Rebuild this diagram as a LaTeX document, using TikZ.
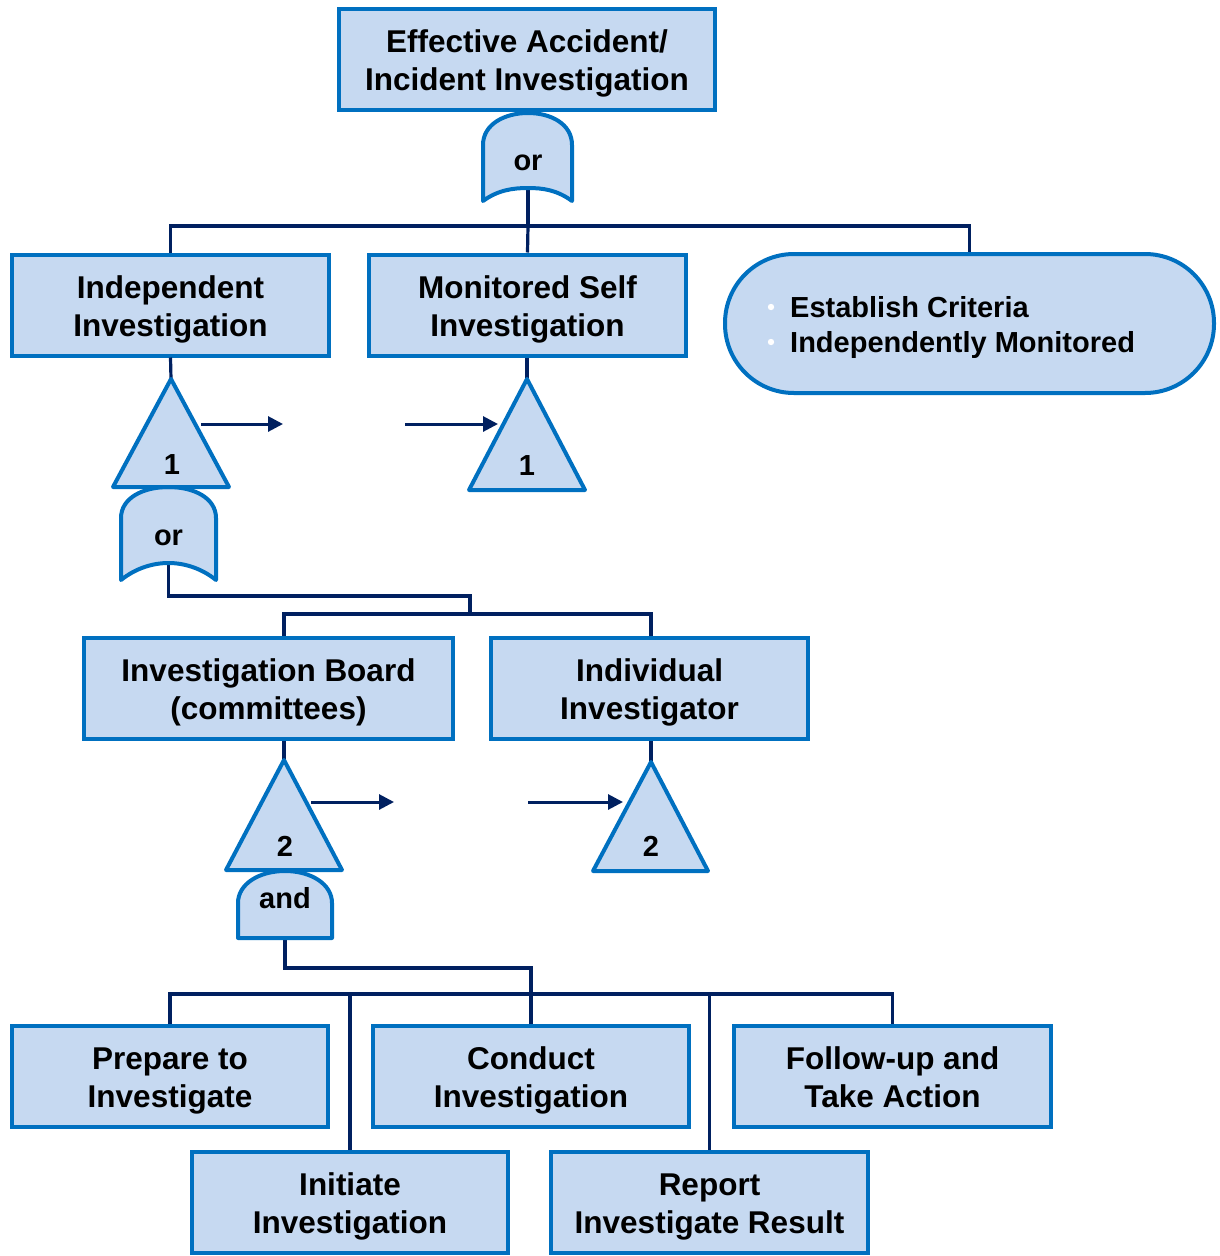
\documentclass[tikz,border=0pt]{standalone}
\usepackage{fontspec}
\setmainfont{Liberation Sans}
\usetikzlibrary{arrows.meta}
\definecolor{boxfill}{RGB}{198,217,241}
\definecolor{boxline}{RGB}{0,112,192}
\definecolor{wire}{RGB}{0,32,96}
% fixed line heights so every two-line label sits at the same place
\newcommand\firstline[1]{\rule{0pt}{31pt}#1}
\newcommand\lastline[1]{#1\rule[-7pt]{0pt}{7pt}}
\newcommand\twolines[2]{\firstline{#1}\\\lastline{#2}}

\begin{document}
\begin{tikzpicture}[x=1pt,y=-1pt,
  box/.style={draw=boxline, fill=boxfill, line width=4pt, minimum width=317pt,
    minimum height=101pt, inner sep=0pt, align=center,
    font=\fontsize{31.5}{38}\selectfont\bfseries},
  gateshape/.style={draw=boxline, fill=boxfill, line width=4pt, line join=round},
  gatetext/.style={inner sep=0pt, font=\fontsize{29}{34}\selectfont\bfseries},
  conn/.style={draw=wire, line width=3.2pt},
  transfer/.style={draw=wire, line width=3pt, -{Triangle[length=15pt,width=15pt]}}]
\useasboundingbox (0,0) rectangle (1220,1256);

% ---- boxes ----
\node[box, minimum width=376pt] (top) at (527,59.5) {\twolines{Effective Accident/}{Incident Investigation}};
\node[box] (indep) at (170.5,305) {\twolines{Independent}{Investigation}};
\node[box] (mon) at (527.5,305) {\twolines{Monitored Self}{Investigation}};
\node[draw=boxline, fill=boxfill, line width=4pt, rounded corners=69pt,
  minimum width=489pt, minimum height=139pt] (crit) at (969.5,323.5) {};
\node[anchor=west, align=left, inner sep=0pt,
  font=\fontsize{29}{35}\selectfont\bfseries] (crittext) at (790,327.5)
  {Establish Criteria\\Independently Monitored};
\fill[white] (771,307) circle (3.2pt) (771,342) circle (3.2pt);

\node[box, minimum width=369pt] (board) at (268.5,688.5) {\twolines{Investigation Board}{(committees)}};
\node[box] (indiv) at (649.5,688.5) {\twolines{Individual}{Investigator}};

\node[box, minimum width=316pt] (prep) at (170,1076.5) {\twolines{Prepare to}{Investigate}};
\node[box, minimum width=316pt] (cond) at (531,1076.5) {\twolines{Conduct}{Investigation}};
\node[box] (foll) at (892.5,1076.5) {\twolines{Follow-up and}{Take Action}};
\node[box, minimum width=316pt] (init) at (350,1202.5) {\twolines{Initiate}{Investigation}};
\node[box] (rep) at (709.5,1202.5) {\twolines{Report}{Investigate Result}};

% ---- junction points ----
\coordinate (gA) at (528,188);
\coordinate (busA) at (528,226);
\coordinate (t1a) at (171,379);
\coordinate (t1b) at (527,379);
\coordinate (gB) at (168.5,563);
\coordinate (jB) at (470,596);
\coordinate (busB) at (470,614);
\coordinate (t2a) at (284,760);
\coordinate (t2b) at (651,762);
\coordinate (gC) at (285,938);
\coordinate (jC) at (531,968);
\coordinate (busC) at (531,994);

% ---- connectors ----
\draw[conn] (gA) -- (busA);
\draw[conn] (indep.north) |- (busA) -| (crit.north);
\draw[conn] (busA) -- (mon.north);
\draw[conn] (indep.south) -- (t1a);
\draw[conn] (mon.south -| t1b) -- (t1b);
\draw[conn] (gB) |- (jB) -- (busB);
\draw[conn] (t2a |- board.north) |- (busB) -| (t2b |- indiv.north);
\draw[conn] (t2a |- board.south) -- (t2a);
\draw[conn] (t2b |- indiv.south) -- (t2b);
\draw[conn] (gC) |- (jC) -- (busC);
\draw[conn] (prep.north) |- (busC) -| (foll.north);
\draw[conn] (busC) -- (cond.north);
\draw[conn] (init.north) -- (init.north |- busC);
\draw[conn] (rep.north) -- (rep.north |- busC);

% ---- gates ----
\draw[gateshape] (483,201) -- (483,145) .. controls (483,124) and (505,113) .. (528,113)
  .. controls (551,113) and (572,124) .. (572,145) -- (572,201)
  .. controls (557,190) and (543,188) .. (528,188)
  .. controls (513,188) and (498,190) .. (483,201) -- cycle;
\node[gatetext] (orA) at (528,163) {or};

\draw[gateshape] (121,580) -- (121,518) .. controls (121,498) and (143,487) .. (168.5,487)
  .. controls (194,487) and (216,498) .. (216,518) -- (216,580)
  .. controls (201,568) and (184,563) .. (168.5,563)
  .. controls (153,563) and (136,568) .. (121,580) -- cycle;
\node[gatetext] (orB) at (168.5,538) {or};

\draw[gateshape] (238,938) -- (238,903) .. controls (238,884) and (259,871) .. (285,871)
  .. controls (311,871) and (332,884) .. (332,903) -- (332,938) -- cycle;
\node[gatetext] (andC) at (285,898) {and};

% ---- transfer triangles ----
\draw[gateshape] (t1a) -- (229,487) -- (113,487) -- cycle;
\node[gatetext] (n1a) at (172,465) {1};
\draw[gateshape] (t1b) -- (585,490) -- (469,490) -- cycle;
\node[gatetext] (n1b) at (527,466) {1};
\draw[gateshape] (t2a) -- (342,870) -- (226,870) -- cycle;
\node[gatetext] (n2a) at (285,846) {2};
\draw[gateshape] (t2b) -- (708,871) -- (593,871) -- cycle;
\node[gatetext] (n2b) at (651,846) {2};

% ---- transfer arrows ----
\coordinate (a1s) at (201,424);
\coordinate (a1e) at (283,424);
\coordinate (a2s) at (405,424);
\coordinate (a2e) at (498,424);
\coordinate (a3s) at (311,802);
\coordinate (a3e) at (394,802);
\coordinate (a4s) at (528,802);
\coordinate (a4e) at (623,802);
\draw[transfer] (a1s) -- (a1e);
\draw[transfer] (a2s) -- (a2e);
\draw[transfer] (a3s) -- (a3e);
\draw[transfer] (a4s) -- (a4e);
\end{tikzpicture}
\end{document}
